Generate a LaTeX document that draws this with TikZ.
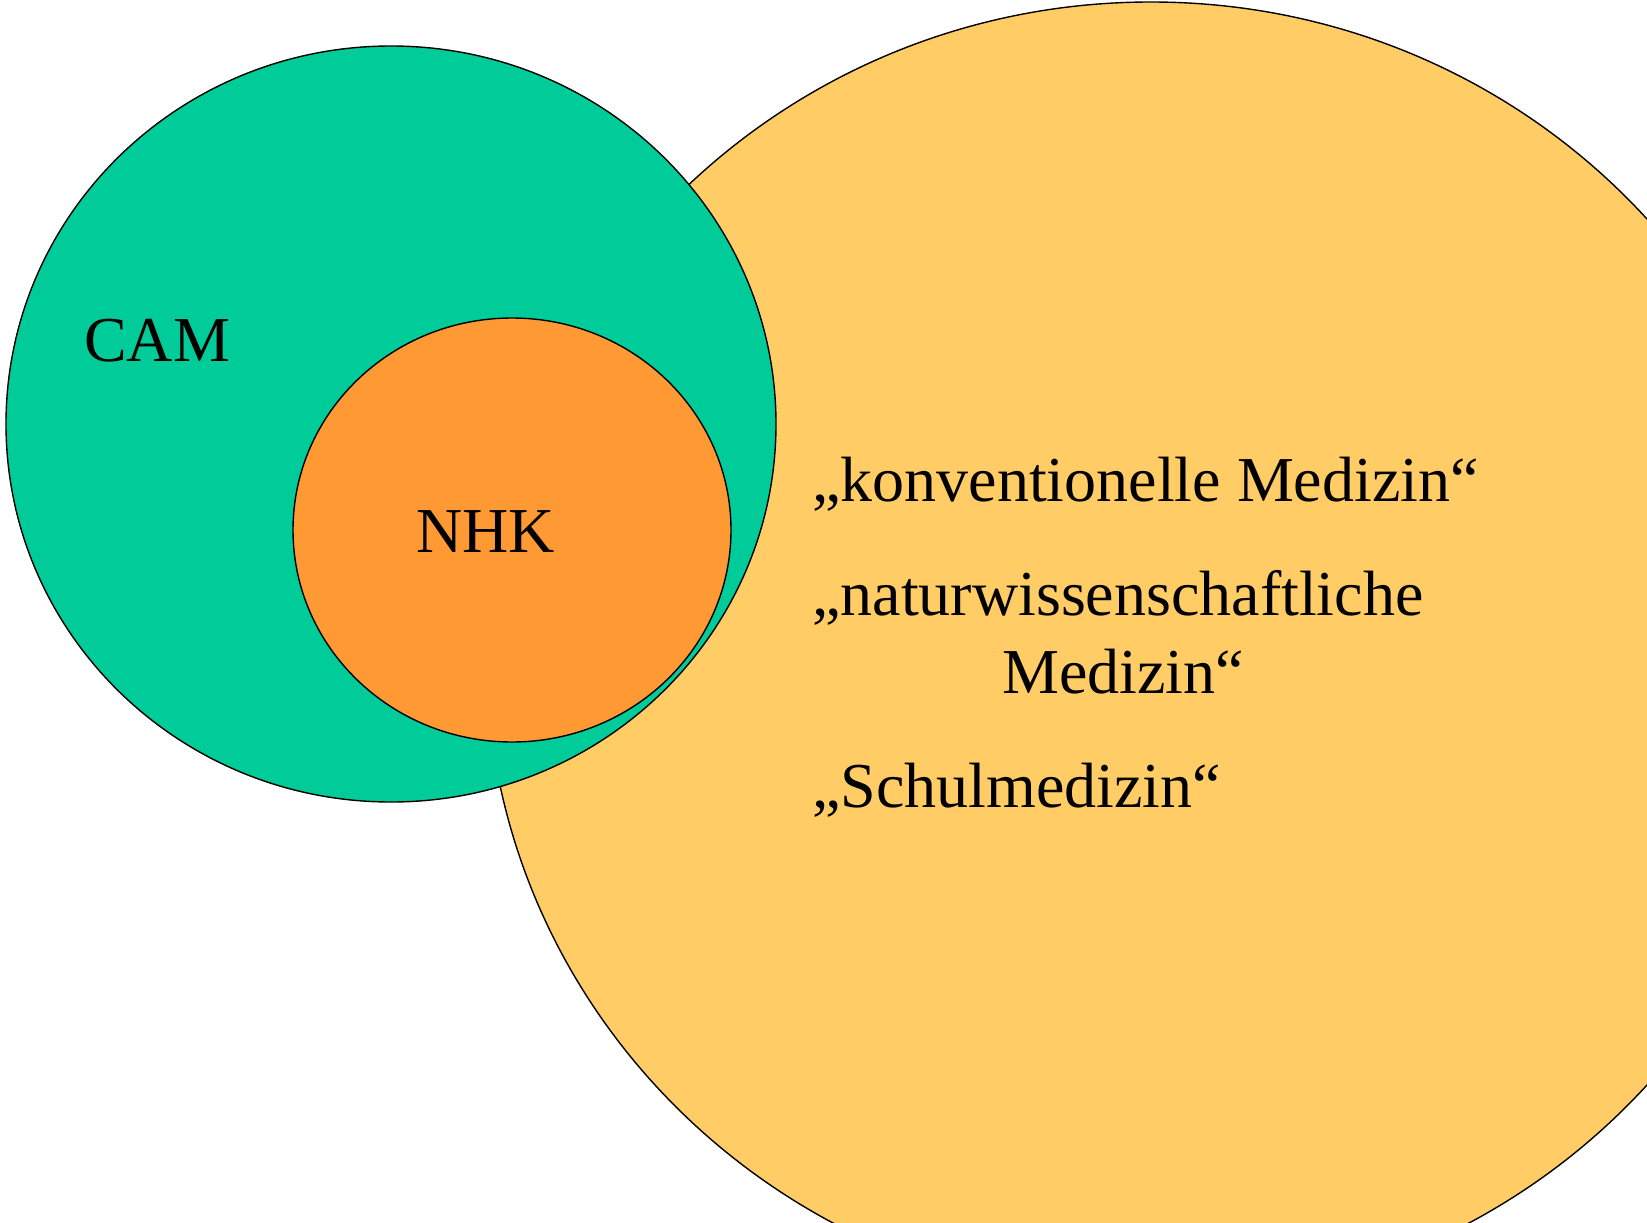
\documentclass[tikz,border=0pt]{standalone}
\usepackage{fontspec}
\setmainfont{Liberation Serif}
\definecolor{camgreen}{RGB}{0,204,153}
\definecolor{nhkorange}{RGB}{255,153,51}
\definecolor{medyellow}{RGB}{255,204,102}
\begin{document}
\begin{tikzpicture}[x=1pt,y=-1pt,
  blob/.style={draw=black,line width=1.4pt},
  lbl/.style={inner sep=0pt,anchor=base west,font=\fontsize{64}{77}\selectfont}]
\useasboundingbox (0,0) rectangle (1647,1223);
\clip (0,0) rectangle (1647,1223);
\fill[white] (0,0) rectangle (1647,1223);
\draw[blob,fill=medyellow] (1151,652) ellipse [x radius=665pt, y radius=650pt];
\draw[blob,fill=camgreen] (391,424) ellipse [x radius=385pt, y radius=378pt];
\draw[blob,fill=nhkorange] (512,530) ellipse [x radius=219pt, y radius=212pt];
\node[lbl] (cam) at (84,361) {CAM};
\node[lbl] (nhk) at (416,552) {NHK};
\node[lbl] (konv) at (812,501) {„konventionelle Medizin“};
\node[lbl] (natur) at (812,615) {„naturwissenschaftliche};
\node[lbl] (natur2) at (1002,693) {Medizin“};
\node[lbl] (schul) at (812,807) {„Schulmedizin“};
\end{tikzpicture}
\end{document}
